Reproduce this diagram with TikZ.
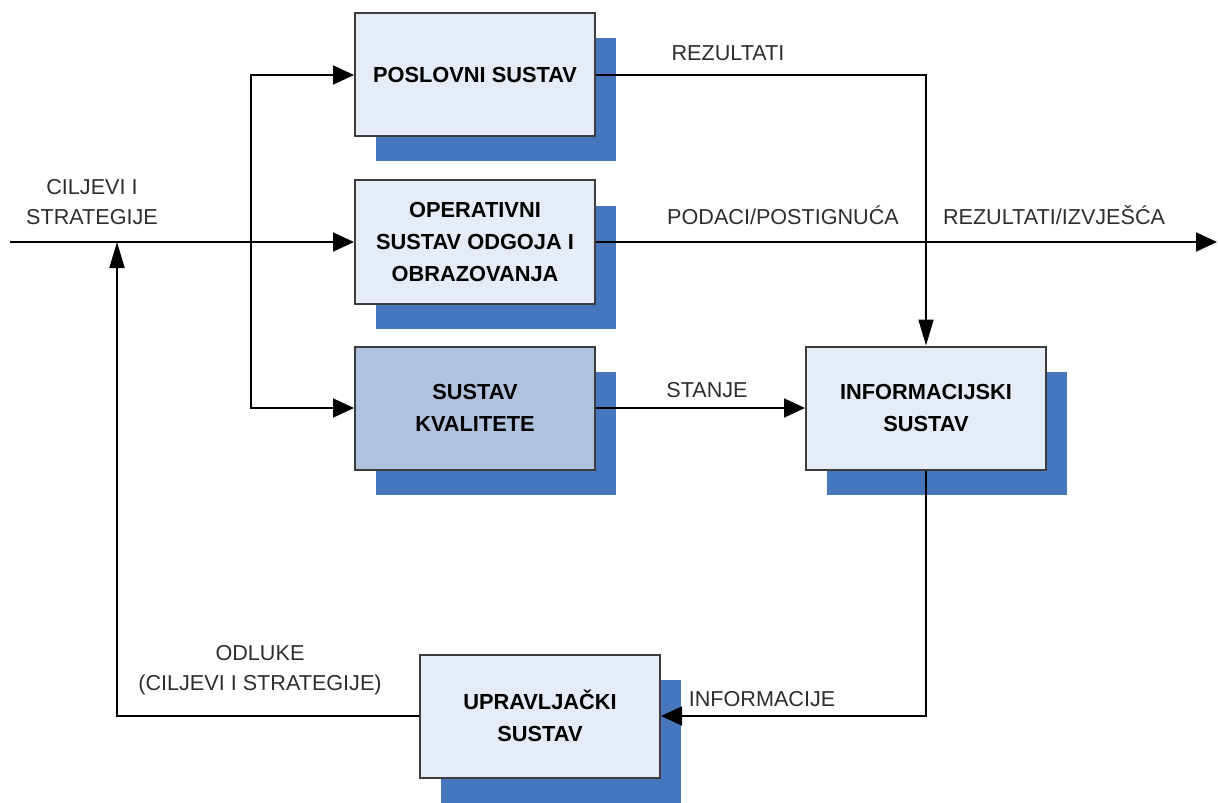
\documentclass[tikz,border=0pt]{standalone}
\usepackage{fontspec}
\setmainfont{Liberation Sans}
\usetikzlibrary{arrows.meta,shadows}
\definecolor{boxfill}{RGB}{230,236,247}
\definecolor{qualfill}{RGB}{176,195,222}
\definecolor{shadowblue}{RGB}{70,119,190}
\definecolor{boxline}{RGB}{60,60,60}
\definecolor{labeltext}{RGB}{45,45,45}
\tikzset{
  sysbox/.style={draw=boxline, line width=1pt, fill=boxfill, minimum width=120pt,
    minimum height=61.5pt, inner sep=2pt, align=center, text=black,
    font=\bfseries\fontsize{10.9}{16}\selectfont,
    drop shadow={shadow xshift=10.5pt, shadow yshift=-12.5pt, fill=shadowblue, opacity=1}},
  flowlabel/.style={align=center, text=labeltext, font=\fontsize{10.8}{15}\selectfont, inner sep=0pt},
  flow/.style={line width=0.9pt, -{Triangle[length=10.5pt,width=9.5pt]}},
  vflow/.style={line width=0.9pt, -{Triangle[length=13pt,width=7.5pt]}}
}

\begin{document}
\begin{tikzpicture}[x=0.5pt,y=-0.5pt]
\useasboundingbox (0,0) rectangle (1218,802);
\node[sysbox] (posl) at (475,75) {POSLOVNI SUSTAV};
\node[sysbox] (oper) at (475,242) {OPERATIVNI\\SUSTAV ODGOJA I\\OBRAZOVANJA};
\node[sysbox, fill=qualfill] (kval) at (475,408) {SUSTAV\\KVALITETE};
\node[sysbox] (info) at (926,408) {INFORMACIJSKI\\SUSTAV};
\node[sysbox] (upr) at (540,716) {UPRAVLJAČKI\\SUSTAV};
%%%%%%%%%%%%%%%
\coordinate (start) at (10,242);
\coordinate (branch) at (251,242);
\coordinate (goal) at (117,242);
\coordinate (out) at (1217,242);
%%%%%%%%%%%
\node[flowlabel] (ciljevi) at (92,202) {CILJEVI I\\STRATEGIJE};
\node[flowlabel] (rez) at (728,53) {REZULTATI};
\node[flowlabel] (podaci) at (783,215) {PODACI/POSTIGNUĆA};
\node[flowlabel] (izvj) at (1054,215) {REZULTATI/IZVJEŠĆA};
\node[flowlabel] (stanje) at (707,390) {STANJE};
\node[flowlabel] (infl) at (762,699) {INFORMACIJE};
\node[flowlabel] (odluke) at (260,670) {ODLUKE\\(CILJEVI I STRATEGIJE)};
\draw[flow] (start) -- (oper);
\draw[flow] (branch) |- (posl.west);
\draw[flow] (branch) |- (kval.west);
\draw[vflow] (posl.east) -| (info.north);
\draw[flow] (oper.east) -- (out);
\draw[flow] (kval) -- (info);
\draw[flow] (info.south) |- (upr.east);
\draw[vflow] (upr.west) -| (goal);
\end{tikzpicture}
\end{document}
